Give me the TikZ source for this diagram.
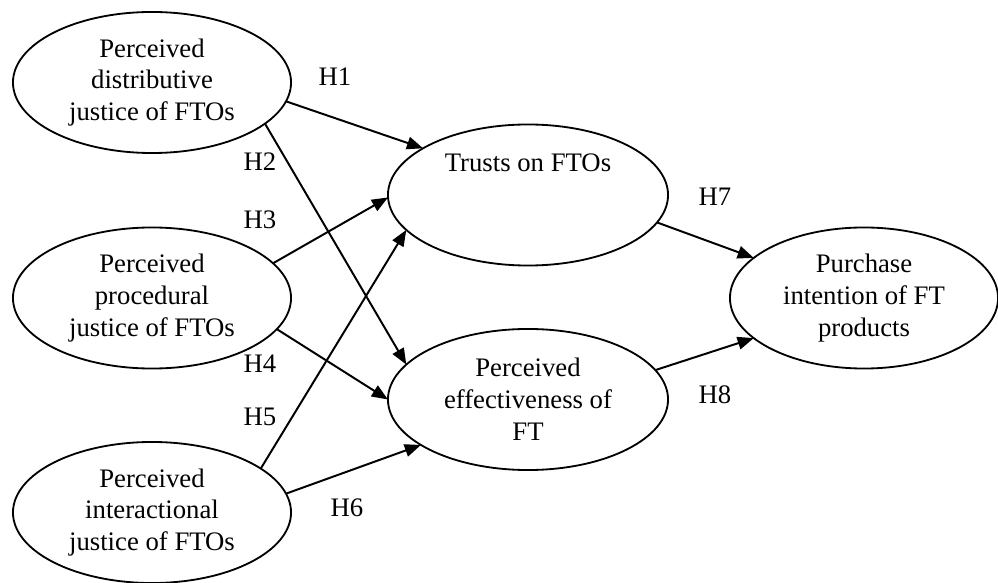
\documentclass[tikz,border=0pt]{standalone}
\usepackage{fontspec}
\setmainfont{Liberation Serif}
\usetikzlibrary{shapes.geometric,arrows.meta}

\begin{document}
\begin{tikzpicture}[x=0.025cm, y=-0.025cm,
    txt/.style={font=\fontsize{19}{22.7}\selectfont},
    var/.style={txt, ellipse, draw, line width=1.3pt, minimum width=6.95cm, minimum height=3.525cm,
      inner sep=1pt, outer sep=0pt, align=center},
    link/.style={line width=1.4pt, -{Triangle[length=11.5pt, width=9pt]}}]
          \useasboundingbox (0,0) rectangle (998,583);

          \node[var] (dist) at (152,82.5) {Perceived\\distributive\\justice of FTOs};
          \node[var] (proc) at (152,298) {Perceived\\procedural\\justice of FTOs};
          \node[var] (inter) at (152,512.5) {Perceived\\interactional\\justice of FTOs};
          \node[var, minimum width=7cm] (trust) at (528,195) {Trusts on FTOs\\~\\~};
          \node[var, minimum width=7cm] (eff) at (528,399.5) {Perceived\\effectiveness of\\FT};
          \node[var, minimum width=6.7cm] (buy) at (864,298) {Purchase\\intention of FT\\products};

          \foreach \a\b in {dist.-8/trust.156.5, dist.-20.6/eff.164.3, proc.16/trust.181, proc.-14.4/eff.180,
            inter.22/trust.196.4, inter.8.5/eff.203.5, trust.-12.4/buy.160.4, eff.13.3/buy.200.8}{
            \draw[link] (\a) -- (\b);
          }

          \foreach \x\y [count=\i from 1] in {335/77, 260/162, 260/220, 260/364, 260/417, 347/508, 715/197, 715/395}{%
            \node[txt] (h\i) at (\x, \y) {H\i};
          }
        \end{tikzpicture}
\end{document}
